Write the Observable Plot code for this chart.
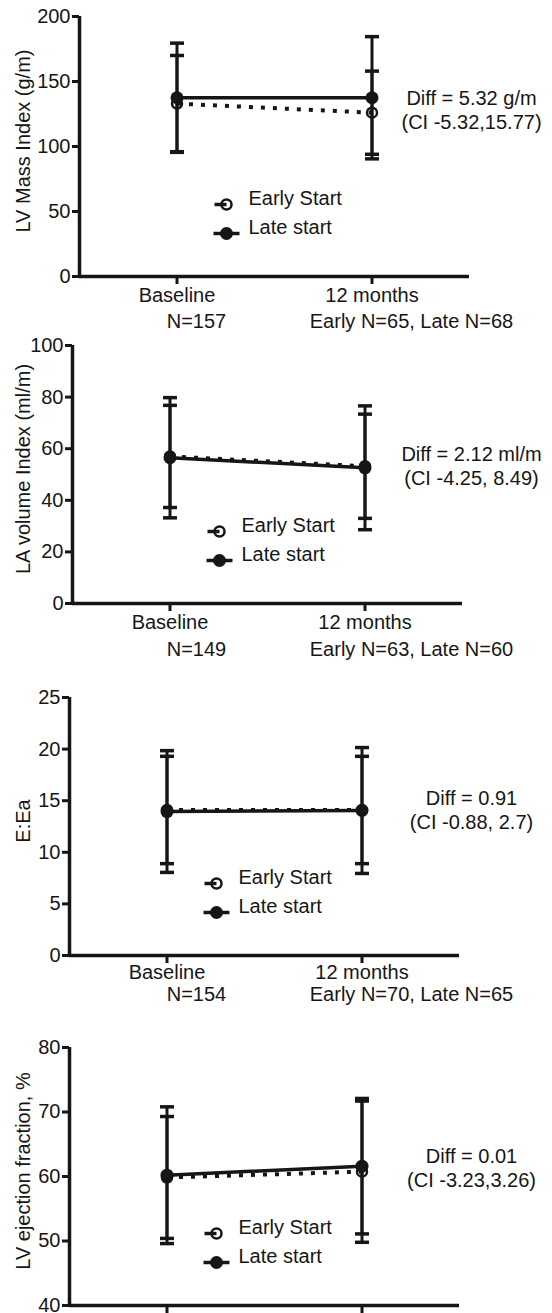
<!DOCTYPE html>
<html>
<head>
<meta charset="utf-8">
<script src="https://cdn.jsdelivr.net/npm/d3@7"></script>
<script src="https://cdn.jsdelivr.net/npm/@observablehq/plot@0.6"></script>
<style>
html, body { margin: 0; padding: 0; background: #fff; overflow: hidden; }
#chart svg { display: block; }
</style>
</head>
<body>
<div id="chart"></div>
<script>
// ---------- data ----------
const timepoints = ["Baseline", "12 months"];
const seriesNames = ["Early Start", "Late start"];

// Panel 1: LV Mass Index
const lvMassEarly = [133, 126];
const lvMassEarlySD = [37, 32];
const lvMassLate = [137.5, 137.5];
const lvMassLateSD = [42, 47];
const lvMassTicks = [0, 50, 100, 150, 200];
const lvMassDiff = "Diff = 5.32 g/m\n(CI -5.32,15.77)";
const lvMassN = ["N=157", "Early N=65, Late N=68"];

// Panel 2: LA volume Index
const laVolEarly = [57, 53.2];
const laVolEarlySD = [19.8, 20.2];
const laVolLate = [56.5, 52.6];
const laVolLateSD = [23.3, 24];
const laVolTicks = [0, 20, 40, 60, 80, 100];
const laVolDiff = "Diff = 2.12 ml/m\n(CI -4.25, 8.49)";
const laVolN = ["N=149", "Early N=63, Late N=60"];

// Panel 3: E:Ea
const eeaEarly = [14.1, 14.1];
const eeaEarlySD = [5.2, 5.2];
const eeaLate = [13.95, 14.05];
const eeaLateSD = [5.9, 6.1];
const eeaTicks = [0, 5, 10, 15, 20, 25];
const eeaDiff = "Diff = 0.91\n(CI -0.88, 2.7)";
const eeaN = ["N=154", "Early N=70, Late N=65"];

// Panel 4: LV ejection fraction
const lvefEarly = [59.85, 60.75];
const lvefEarlySD = [9.45, 10.95];
const lvefLate = [60.2, 61.6];
const lvefLateSD = [10.6, 10.5];
const lvefTicks = [40, 50, 60, 70, 80];
const lvefDiff = "Diff = 0.01\n(CI -3.23,3.26)";

// ---------- layout ----------
const W = 552;
const ink = "#161616";
const font = "'Liberation Sans', Arial, Helvetica, sans-serif";

const panels = [
  {label: "LV Mass Index (g/m)", ticks: lvMassTicks, early: lvMassEarly, earlySD: lvMassEarlySD,
   late: lvMassLate, lateSD: lvMassLateSD, diff: lvMassDiff, n: lvMassN,
   height: 335, mt: 16, mb: 59, ml: 79, mr: 83, nDy: 51, diffDy: -3, tickPad: 3, xLabels: true},
  {label: "LA volume Index (ml/m)", ticks: laVolTicks, early: laVolEarly, earlySD: laVolEarlySD,
   late: laVolLate, lateSD: laVolLateSD, diff: laVolDiff, n: laVolN,
   height: 345, mt: 10, mb: 77, ml: 72, mr: 90, nDy: 52, diffDy: -1, tickPad: 3, xLabels: true},
  {label: "E:Ea", ticks: eeaTicks, early: eeaEarly, earlySD: eeaEarlySD,
   late: eeaLate, lateSD: eeaLateSD, diff: eeaDiff, n: eeaN,
   height: 340, mt: 17, mb: 65, ml: 69, mr: 93, nDy: 45, diffDy: -1, tickPad: 1, xLabels: true},
  {label: "LV ejection fraction, %", ticks: lvefTicks, early: lvefEarly, earlySD: lvefEarlySD,
   late: lvefLate, lateSD: lvefLateSD, diff: lvefDiff, n: null,
   height: 293, mt: 27, mb: 8, ml: 69, mr: 93, nDy: 0, diffDy: -4, tickPad: 3, xLabels: false}
];

// custom symbols
const capSym = {draw(ctx, size) { const r = Math.sqrt(size / Math.PI); ctx.moveTo(-r, 0); ctx.lineTo(r, 0); }};
const halfSeg = {draw(ctx, size) { const r = Math.sqrt(size / Math.PI); ctx.moveTo(-r, 0); ctx.lineTo(0, 0); }};

function render(p) {
  const rows = [];
  timepoints.forEach((t, i) => {
    rows.push({series: seriesNames[0], i, mean: p.early[i], sd: p.earlySD[i]});
    rows.push({series: seriesNames[1], i, mean: p.late[i], sd: p.lateSD[i]});
  });
  const early = rows.filter(d => d.series === seriesNames[0]);
  const late = rows.filter(d => d.series === seriesNames[1]);
  const yDomain = [p.ticks[0], p.ticks[p.ticks.length - 1]];
  const frameW = W - p.ml - p.mr;
  const px = i => p.ml + (i + 0.5) * frameW / 2;

  const marks = [
    // axis lines
    Plot.ruleY([yDomain[0]], {stroke: ink, strokeWidth: 3.5}),
    Plot.ruleX([-0.5], {y1: yDomain[0], y2: yDomain[1], stroke: ink, strokeWidth: 3.5}),
    Plot.axisY({ticks: p.ticks, tickSize: 7, tickPadding: 2, stroke: ink, strokeWidth: 3, fill: ink, label: null}),
    Plot.axisX({ticks: [0, 1], tickFormat: p.xLabels ? (i => timepoints[i]) : (() => ""), tickSize: 8, tickPadding: p.tickPad,
      stroke: ink, strokeWidth: 3, fill: ink, label: null}),
    // y label
    Plot.text([p.label], {frameAnchor: "left", rotate: -90, dx: 23 - p.ml, dy: -5.5, textAnchor: "middle", fill: ink}),
    // error bars
    Plot.ruleX(rows, {x: "i", y1: d => d.mean - d.sd, y2: d => d.mean + d.sd, stroke: ink, strokeWidth: 3}),
    Plot.dot(rows, {x: "i", y: d => d.mean + d.sd, symbol: capSym, r: 7, stroke: ink, strokeWidth: 3.5}),
    Plot.dot(rows, {x: "i", y: d => d.mean - d.sd, symbol: capSym, r: 7, stroke: ink, strokeWidth: 3.5}),
    // series lines
    Plot.line(early, {x: "i", y: "mean", stroke: ink, strokeWidth: 4, strokeDasharray: "4,8", strokeLinecap: "butt"}),
    Plot.line(late, {x: "i", y: "mean", stroke: ink, strokeWidth: 3.5}),
    Plot.dot(early, {x: "i", y: "mean", r: 5, stroke: ink, strokeWidth: 2.5, fill: "none"}),
    Plot.dot(late, {x: "i", y: "mean", r: 6.5, fill: ink, stroke: "none"}),
    // legend
    Plot.dot([0], {frameAnchor: "bottom-left", dx: 147, dy: -72, symbol: halfSeg, r: 12, stroke: ink, strokeWidth: 3.5}),
    Plot.dot([0], {frameAnchor: "bottom-left", dx: 147, dy: -72, r: 5, stroke: ink, strokeWidth: 2.5, fill: "none"}),
    Plot.text([seriesNames[0]], {frameAnchor: "bottom-left", dx: 169, dy: -72, textAnchor: "start", fill: ink}),
    Plot.dot([0], {frameAnchor: "bottom-left", dx: 147, dy: -43, symbol: capSym, r: 13, stroke: ink, strokeWidth: 3.5}),
    Plot.dot([0], {frameAnchor: "bottom-left", dx: 147, dy: -43, r: 6.5, fill: ink, stroke: "none"}),
    Plot.text([seriesNames[1]], {frameAnchor: "bottom-left", dx: 169, dy: -43, textAnchor: "start", fill: ink}),
    // difference annotation
    Plot.text([p.diff], {x: [1], y: [p.early[1]], dx: 471 - px(1), dy: p.diffDy, textAnchor: "middle", lineHeight: 1.2, fill: ink})
  ];
  if (p.n) {
    marks.push(Plot.text([p.n[0]], {x: [0], frameAnchor: "bottom", dx: 196 - px(0), dy: p.nDy, textAnchor: "middle", fill: ink}));
    marks.push(Plot.text([p.n[1]], {x: [1], frameAnchor: "bottom", dx: 411 - px(1), dy: p.nDy, textAnchor: "middle", fill: ink}));
  }

  return Plot.plot({
    width: W,
    height: p.height,
    marginTop: p.mt,
    marginBottom: p.mb,
    marginLeft: p.ml,
    marginRight: p.mr,
    style: {fontFamily: font, fontSize: "20px", color: ink, background: "white", overflow: "visible"},
    x: {type: "linear", domain: [-0.5, 1.5]},
    y: {type: "linear", domain: yDomain},
    marks
  });
}

const root = document.getElementById("chart");
panels.forEach(p => root.appendChild(render(p)));
</script>
</body>
</html>
